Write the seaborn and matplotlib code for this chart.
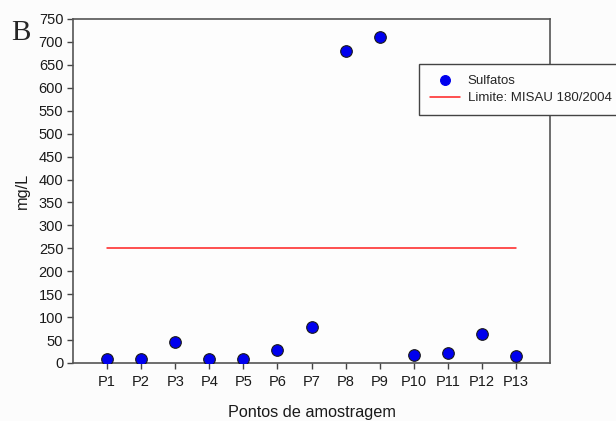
import matplotlib
matplotlib.use("Agg")
import matplotlib.pyplot as plt
import seaborn as sns
import pandas as pd

points = ["P1", "P2", "P3", "P4", "P5", "P6", "P7", "P8", "P9", "P10", "P11", "P12", "P13"]
sulfatos = [9, 9, 46, 9, 8, 29, 78, 681, 711, 17, 21, 63, 15]
limite = [250] * len(points)
y_ticks = list(range(0, 751, 50))

sns.set_style("white")
plt.rcParams['font.family'] = ['Liberation Sans', 'DejaVu Sans']

df = pd.DataFrame({"pos": range(1, len(points) + 1), "Sulfatos": sulfatos, "Limite": limite})

fig = plt.figure(figsize=(6.16, 4.21), dpi=100, facecolor="#fcfcfc")
ax = fig.add_axes([73/616, 1 - 363/421, (550-73)/616, (363-19)/421])
ax.set_facecolor("#fdfdfd")

sns.lineplot(data=df, x="pos", y="Limite", ax=ax, color="#ff2020", linewidth=1.1,
             label="Limite: MISAU 180/2004", zorder=2)
sns.scatterplot(data=df, x="pos", y="Sulfatos", ax=ax, color="#0000ee", edgecolor="#1a1a1a",
                linewidth=0.8, s=70, label="Sulfatos", zorder=3)

ax.set_xlim(0, 14)
ax.set_ylim(0, 750)
ax.set_xticks(range(1, len(points) + 1))
ax.set_xticklabels(points)
ax.set_yticks(y_ticks)
ax.tick_params(axis="both", direction="out", length=4, width=1, color="#444444",
               labelsize=10.5, labelcolor="#1a1a1a", bottom=True, left=True, pad=3)
ax.tick_params(axis="x", pad=5)
for sp in ax.spines.values():
    sp.set_color("#555555")
    sp.set_linewidth(1.2)

ax.set_xlabel("Pontos de amostragem", fontsize=11.7, color="#1a1a1a", labelpad=11)
ax.set_ylabel("mg/L", fontsize=11.7, color="#1a1a1a", labelpad=6)

handles, labels = ax.get_legend_handles_labels()
order = [labels.index("Sulfatos"), labels.index("Limite: MISAU 180/2004")]
leg = ax.legend([handles[i] for i in order], [labels[i] for i in order],
                loc="upper left", bbox_to_anchor=(419/616, 1 - 64/421),
                bbox_transform=fig.transFigure, frameon=True, fancybox=False,
                edgecolor="#444444", fontsize=9.5, handlelength=2.3, handletextpad=0.6,
                borderpad=0.8, borderaxespad=0, labelspacing=0.4)
leg.get_frame().set_linewidth(1.0)
leg.get_frame().set_facecolor("#fdfdfd")
leg.get_frame().set_alpha(1)
for h in leg.legend_handles:
    if hasattr(h, "set_sizes"):
        h.set_sizes([50])
        h.set_edgecolor("#0000ee")

fig.text(11/616, 1 - 33/421, "B", fontsize=21, family="Liberation Serif", va="center", ha="left")

fig.savefig("out.png", dpi=100, facecolor=fig.get_facecolor())
